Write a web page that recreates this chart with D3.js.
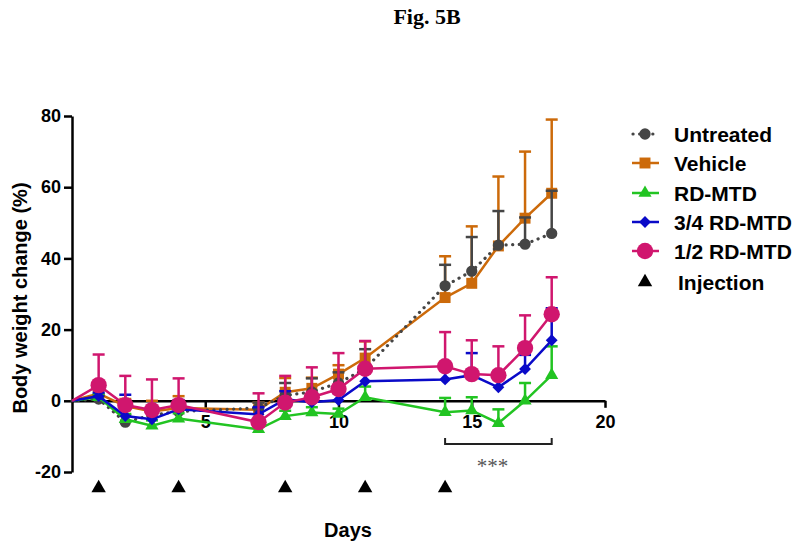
<!DOCTYPE html>
<html>
<head>
<meta charset="utf-8">
<script src="https://cdn.jsdelivr.net/npm/d3@7"></script>
<style>
  body { margin: 0; background: #fff; }
  svg { display: block; }
</style>
</head>
<body>
<svg id="chart" width="800" height="550"></svg>
<script>
// ---------- data ----------
const days = [0, 1, 2, 3, 4, 7, 8, 9, 10, 11, 14, 15, 16, 17, 18];
const seriesNames = ["Untreated", "Vehicle", "RD-MTD", "3/4 RD-MTD", "1/2 RD-MTD"];
const untreatedMean = [0, 0.5, -6, -4, -3, -2, 1.5, 2.5, 5, 9, 32.3, 36.4, 43.7, 44, 47];
const untreatedSem  = [0, 1, 2, 2, 2, 1.5, 3.5, 3.8, 3, 5.5, 5.9, 9.6, 9.6, 7.5, 12];
const vehicleMean   = [0, 2, -1.5, -3, -2, -2.5, 2.4, 3.5, 7.5, 12, 29, 33, 43.5, 51.3, 58.3];
const vehicleSem    = [0, 1, 2, 3, 3.3, 2, 4, 3, 2.5, 4.7, 11.6, 16, 19.5, 18.7, 20.7];
const rdMean        = [0, 1, -5.2, -7, -5, -8, -4.3, -3.3, -3.7, 1, -3.2, -2.7, -6.3, 0, 7.2];
const rdSem         = [0, 1, 1.5, 1.5, 1.5, 1.5, 1.5, 1.5, 1.5, 3, 4, 3.7, 3.9, 5, 8.1];
const threeQMean    = [0, 1.3, -4.3, -5.2, -2.4, -3.8, 0.4, -0.4, 0.2, 5.5, 6, 7.2, 3.8, 8.9, 17];
const threeQSem     = [0, 1, 6, 2, 2.6, 2, 2.3, 2, 2, 3, 4, 6.2, 3, 4, 9];
const halfMean      = [0, 4.4, -1.2, -2.6, -1.2, -6, -0.5, 1, 3.3, 9, 9.7, 7.5, 7.2, 14.8, 24.3];
const halfSem       = [0, 8.6, 8.2, 8.6, 7.5, 8.1, 7.5, 8.4, 10.1, 7.8, 9.6, 9.5, 8.1, 9.2, 10.4];
const injectionDays = [1, 4, 8, 11, 14];
const yTicks = [-20, 0, 20, 40, 60, 80];
const xTicks = [5, 10, 15, 20];
const bracketDays = [14, 18];
const bracketLabel = "***";

// ---------- setup ----------
const svg = d3.select("#chart");
const x = d3.scaleLinear().domain([0, 20]).range([72, 605]);
const y = d3.scaleLinear().domain([-20, 80]).range([472, 116]);
const FONT = "Liberation Sans, Arial, sans-serif";

const series = [
  { name: seriesNames[0], mean: untreatedMean, sem: untreatedSem, color: "#454545", marker: "circleS", dotted: true },
  { name: seriesNames[1], mean: vehicleMean, sem: vehicleSem, color: "#cc6a0a", marker: "square" },
  { name: seriesNames[2], mean: rdMean, sem: rdSem, color: "#22c422", marker: "triangle" },
  { name: seriesNames[3], mean: threeQMean, sem: threeQSem, color: "#0a0ac8", marker: "diamond" },
  { name: seriesNames[4], mean: halfMean, sem: halfSem, color: "#d0166e", marker: "circleL" }
];

const symbolFor = {
  circleS: { gen: d3.symbol().type(d3.symbolCircle).size(100), rot: 0 },
  square: { gen: d3.symbol().type(d3.symbolSquare).size(120), rot: 0 },
  triangle: { gen: d3.symbol().type(d3.symbolTriangle).size(75), rot: 0 },
  diamond: { gen: d3.symbol().type(d3.symbolSquare).size(70), rot: 45 },
  circleL: { gen: d3.symbol().type(d3.symbolCircle).size(210), rot: 0 }
};

// Title
svg.append("text").attr("x", 427).attr("y", 24).attr("text-anchor", "middle")
  .attr("font-family", "Liberation Serif, Times New Roman, serif").attr("font-weight", "bold")
  .attr("font-size", 22).text("Fig. 5B");

// Axes
const yAxis = d3.axisLeft(y).tickValues(yTicks).tickFormat(d => String(d))
  .tickSize(8).tickSizeOuter(0).tickPadding(3);
const gy = svg.append("g").attr("transform", `translate(${x(0)},0)`).call(yAxis);
gy.select(".domain").attr("stroke", "#000").attr("stroke-width", 2.5);
gy.selectAll(".tick line").attr("stroke", "#000").attr("stroke-width", 2.5);
gy.selectAll(".tick text").attr("font-family", FONT).attr("font-weight", "bold").attr("font-size", 18).attr("fill", "#000");

const xAxis = d3.axisBottom(x).tickValues(xTicks).tickFormat(d => String(d))
  .tickSize(7).tickSizeOuter(0).tickPadding(7);
const gx = svg.append("g").attr("transform", `translate(0,${y(0)})`).call(xAxis);
gx.select(".domain").attr("stroke", "#000").attr("stroke-width", 2.5);
gx.selectAll(".tick line").attr("stroke", "#000").attr("stroke-width", 2.5);
gx.selectAll(".tick text").attr("font-family", FONT).attr("font-weight", "bold").attr("font-size", 18).attr("fill", "#000");

// Axis titles
svg.append("text").attr("transform", `translate(27,298) rotate(-90)`).attr("text-anchor", "middle")
  .attr("font-family", FONT).attr("font-weight", "bold").attr("font-size", 20).text("Body weight change (%)");
svg.append("text").attr("x", 348).attr("y", 537).attr("text-anchor", "middle")
  .attr("font-family", FONT).attr("font-weight", "bold").attr("font-size", 20).text("Days");

// Series
const line = d3.line().x(d => x(d.day)).y(d => y(d.v));
const drawOrder = [1, 0, 2, 3, 4];
drawOrder.forEach(i => {
  const s = series[i];
  const pts = days.map((d, k) => ({ day: d, v: s.mean[k], e: s.sem[k] }));
  const g = svg.append("g");
  pts.filter(p => p.e > 0).forEach(p => {
    g.append("line").attr("x1", x(p.day)).attr("x2", x(p.day))
      .attr("y1", y(p.v)).attr("y2", y(p.v + p.e))
      .attr("stroke", s.color).attr("stroke-width", 2.5);
    g.append("line").attr("x1", x(p.day) - 6).attr("x2", x(p.day) + 6)
      .attr("y1", y(p.v + p.e)).attr("y2", y(p.v + p.e))
      .attr("stroke", s.color).attr("stroke-width", 2.5);
  });
  const path = g.append("path").datum(pts).attr("d", line).attr("fill", "none")
    .attr("stroke", s.color).attr("stroke-width", 2.5);
  if (s.dotted) path.attr("stroke-dasharray", "0.1 6.5").attr("stroke-linecap", "round").attr("stroke-width", 3.2);
  const sym = symbolFor[s.marker];
  g.selectAll("path.m").data(pts.filter(p => p.day > 0)).join("path").attr("class", "m")
    .attr("d", sym.gen())
    .attr("transform", p => `translate(${x(p.day)},${y(p.v)}) rotate(${sym.rot})`)
    .attr("fill", s.color);
});

// Injection triangles
const tri = d3.symbol().type(d3.symbolTriangle).size(90);
svg.selectAll("path.inj").data(injectionDays).join("path").attr("class", "inj")
  .attr("d", tri()).attr("transform", d => `translate(${x(d)},488)`).attr("fill", "#000");

// Significance bracket
const bx0 = x(bracketDays[0]), bx1 = x(bracketDays[1]);
svg.append("path").attr("d", `M${bx0},438 V444 H${bx1} V438`).attr("fill", "none")
  .attr("stroke", "#222").attr("stroke-width", 2);
svg.append("text").attr("x", (bx0 + bx1) / 2 - 6).attr("y", 473).attr("text-anchor", "middle")
  .attr("font-family", "Liberation Serif, Times New Roman, serif").attr("font-size", 21)
  .attr("fill", "#555").text(bracketLabel);

// Legend
const legendY = [134, 163, 193, 222, 251];
const lg = svg.append("g");
series.forEach((s, i) => {
  const ly = legendY[i];
  const l = lg.append("line").attr("x1", 632).attr("x2", 659).attr("y1", ly).attr("y2", ly)
    .attr("stroke", s.color).attr("stroke-width", 2.5);
  if (s.dotted) l.attr("stroke-dasharray", "0.1 6.5").attr("stroke-linecap", "round").attr("stroke-width", 3.2).attr("x1", 633);
  const sym = symbolFor[s.marker];
  lg.append("path").attr("d", sym.gen()).attr("transform", `translate(645,${ly}) rotate(${sym.rot})`).attr("fill", s.color);
  lg.append("text").attr("x", 674).attr("y", ly).attr("dy", "0.36em")
    .attr("font-family", FONT).attr("font-weight", "bold").attr("font-size", 21).text(s.name);
});
lg.append("path").attr("d", tri()).attr("transform", "translate(645,282)").attr("fill", "#000");
lg.append("text").attr("x", 678).attr("y", 282).attr("dy", "0.36em")
  .attr("font-family", FONT).attr("font-weight", "bold").attr("font-size", 21).text("Injection");
</script>
</body>
</html>
